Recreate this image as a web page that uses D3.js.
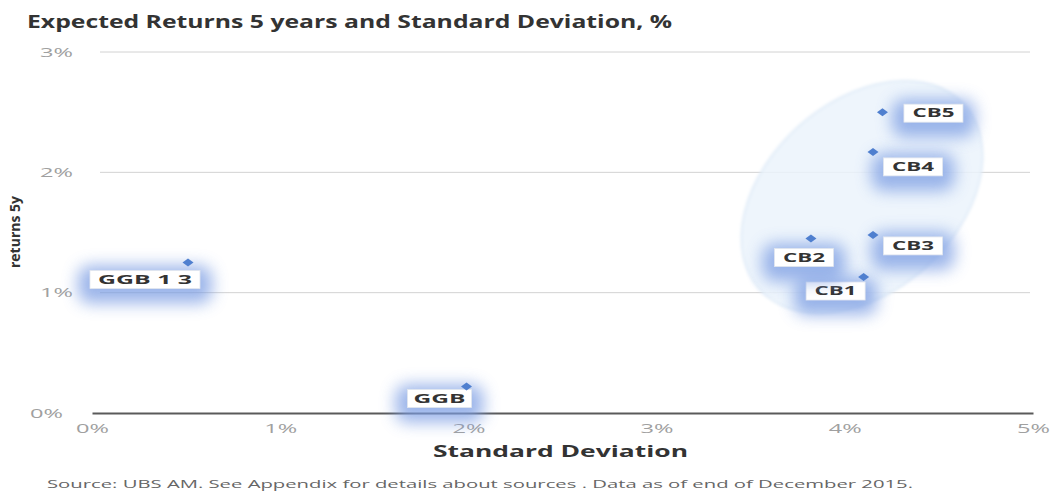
<!DOCTYPE html>
<html>
<head>
<meta charset="utf-8">
<script src="https://cdn.jsdelivr.net/npm/d3@7"></script>
<style>
  html, body { margin: 0; padding: 0; background: #fff; }
  svg { display: block; }
  text { font-family: "Open Sans", "DejaVu Sans", sans-serif; }
</style>
</head>
<body>
<svg id="chart" width="1051" height="492"></svg>
<script>
// ---- data ----
const names   = ["GGB 1 3", "GGB", "CB1", "CB2", "CB3", "CB4", "CB5"];
const stdDev  = [0.51, 1.99, 4.10, 3.82, 4.15, 4.15, 4.20];
const returns = [1.25, 0.22, 1.13, 1.45, 1.48, 2.17, 2.50];
const xTicks  = [0, 1, 2, 3, 4, 5];
const yTicks  = [0, 1, 2, 3];
const titleText  = "Expected Returns 5 years and Standard Deviation, %";
const xTitleText = "Standard Deviation";
const yTitleText = "returns 5y";
const sourceText = "Source: UBS AM. See Appendix for details about sources . Data as of end of December 2015.";

// label placement (pixel offsets of label box centre from the point)
const labelDx = [-43, -27, -28, -7, 40, 40, 51];
const labelDy = [ 17,  12,  14, 19, 11, 15,  1];

// ---- layout ----
const svg = d3.select("#chart");
const x = d3.scaleLinear().domain([0, 5]).range([92, 1033]);
const y = d3.scaleLinear().domain([0, 3]).range([413, 52]);

const defs = svg.append("defs");
const blur = defs.append("filter").attr("id", "glow")
  .attr("x", "-60%").attr("y", "-120%").attr("width", "220%").attr("height", "340%");
blur.append("feGaussianBlur").attr("stdDeviation", 8);
const soft = defs.append("filter").attr("id", "soft")
  .attr("x", "-20%").attr("y", "-20%").attr("width", "140%").attr("height", "140%");
soft.append("feGaussianBlur").attr("stdDeviation", 1.5);

// stretched text helper
function stretched(sel, len) {
  return sel.attr("textLength", len).attr("lengthAdjust", "spacingAndGlyphs");
}

// title
stretched(svg.append("text").attr("x", 27).attr("y", 28)
  .attr("font-size", 17).attr("font-weight", "bold").attr("fill", "#333")
  .text(titleText), 645);

// gridlines
svg.append("g").selectAll("line").data(yTicks.filter(d => d > 0)).join("line")
  .attr("x1", 100).attr("x2", 1030)
  .attr("y1", d => y(d)).attr("y2", d => y(d))
  .attr("stroke", "#d2d2d2").attr("stroke-width", 1);

// ellipse around CB cluster
svg.append("ellipse")
  .attr("cx", 0).attr("cy", 0).attr("rx", 95).attr("ry", 138)
  .attr("transform", "translate(862,197) rotate(48)")
  .attr("fill", "#ebf3fc").attr("fill-opacity", 0.85)
  .attr("stroke", "#dbe8f6").attr("stroke-width", 1.5)
  .attr("filter", "url(#soft)");

// x axis
const xAxis = svg.append("g").attr("transform", `translate(0,${y(0)})`)
  .call(d3.axisBottom(x).tickValues(xTicks).tickFormat(d => d + "%").tickSize(0).tickPadding(11));
xAxis.select(".domain").attr("stroke", "#5a5a5a").attr("stroke-width", 2);
xAxis.selectAll("text").attr("font-size", 12.5).attr("fill", "#a0a0a0")
  .attr("font-family", "'Open Sans', sans-serif")
  .attr("textLength", 33).attr("lengthAdjust", "spacingAndGlyphs");

// y axis labels
const yAxis = svg.append("g").attr("transform", "translate(73,0)")
  .call(d3.axisLeft(y).tickValues(yTicks).tickFormat(d => d + "%").tickSize(0).tickPadding(0));
yAxis.select(".domain").remove();
yAxis.selectAll("text").attr("font-size", 12.5).attr("fill", "#a0a0a0")
  .attr("font-family", "'Open Sans', sans-serif")
  .attr("textLength", 33).attr("lengthAdjust", "spacingAndGlyphs")
  .attr("dx", d => d === 0 ? -10 : 0);

// axis titles
stretched(svg.append("text").attr("x", 433).attr("y", 457)
  .attr("font-size", 16).attr("font-weight", "bold").attr("fill", "#333")
  .text(xTitleText), 255);
svg.append("text").attr("transform", "translate(20,232) rotate(-90)")
  .attr("text-anchor", "middle")
  .attr("font-size", 14).attr("font-weight", "bold").attr("fill", "#333")
  .text(yTitleText);

// source
stretched(svg.append("text").attr("x", 47).attr("y", 488)
  .attr("font-size", 10.5).attr("fill", "#666")
  .text(sourceText), 866);

// points + labels
const pts = names.map((n, i) => ({ name: n, sd: stdDev[i], r: returns[i], dx: labelDx[i], dy: labelDy[i] }));

const lab = svg.append("g").selectAll("g").data(pts).join("g")
  .attr("transform", d => `translate(${x(d.sd) + d.dx},${y(d.r) + d.dy})`);
lab.each(function(d) {
  const g = d3.select(this);
  const w = d.name.length > 4 ? 110 : (d.name === "GGB" ? 64 : 59);
  const tw = d.name.length > 4 ? 94 : (d.name === "GGB" ? 52 : 42);
  g.append("rect").attr("x", -w / 2 - 12).attr("y", -14).attr("width", w + 24).attr("height", 38)
    .attr("rx", 12).attr("fill", "#7b9de3").attr("opacity", 0.75).attr("filter", "url(#glow)");
  g.append("rect").attr("x", -w / 2).attr("y", -9).attr("width", w).attr("height", 18)
    .attr("fill", "#fff").attr("stroke", "#e2e6ee").attr("stroke-width", 0.8);
  g.append("text").attr("text-anchor", "middle").attr("dy", "0.36em")
    .attr("font-size", 12).attr("font-weight", "bold").attr("fill", "#333")
    .attr("textLength", tw).attr("lengthAdjust", "spacingAndGlyphs")
    .text(d.name);
});

svg.append("g").selectAll("path").data(pts).join("path")
  .attr("d", "M0,-4 L5.5,0 L0,4 L-5.5,0 Z")
  .attr("transform", d => `translate(${x(d.sd)},${y(d.r)})`)
  .attr("fill", "#4f7fcf");
</script>
</body>
</html>
